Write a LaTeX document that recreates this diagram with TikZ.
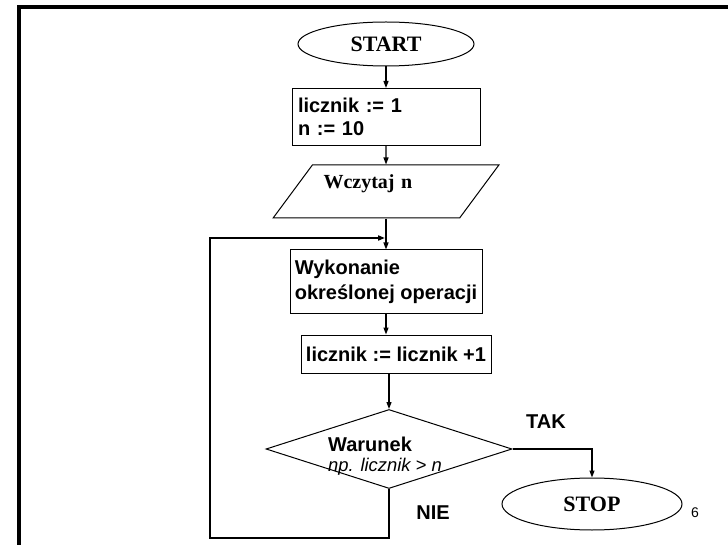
\documentclass[tikz,border=0pt]{standalone}
\usepackage{fontspec}
\setmainfont{Liberation Serif}
\setsansfont{Liberation Sans}
\usetikzlibrary{arrows.meta,shapes.geometric}

\begin{document}
\begin{tikzpicture}[x=1pt,y=-1pt,
    >={Triangle[length=7pt,width=5pt]},
    every node/.style={inner sep=0pt},
    flow/.style={draw,line width=1pt},
    blok/.style={flow,rectangle,font=\fontsize{20}{23}\selectfont\sffamily\bfseries},
    term/.style={flow,ellipse,font=\fontsize{22}{24}\selectfont\bfseries},
    lbl/.style={font=\fontsize{20}{24}\selectfont\sffamily\bfseries},
    conn/.style={->,line width=1.2pt},
    powrot/.style={->,line width=2.2pt}]
  \useasboundingbox (0,0) rectangle (728,545);
  % ramka slajdu
  \draw[line width=4pt] (19,545) -- (19,7) -- (728,7);

  \node[term,minimum width=176pt,minimum height=44pt] (start) at (386,44) {START};
  \node[blok,minimum width=188pt,minimum height=57pt,text width=176pt,align=left] (init) at (386,117) {licznik := 1\\n := 10};
  \node[flow,trapezium,trapezium left angle=47,trapezium right angle=133,trapezium stretches=true,
        inner sep=2pt,minimum width=226pt,minimum height=53pt,
        font=\fontsize{20}{24}\selectfont\bfseries,text width=125pt,align=left,text depth=19pt] (read) at (386,191.5) {Wczytaj n};
  \node[blok,minimum width=192pt,minimum height=63pt,align=left,
        font=\fontsize{20}{25}\selectfont\sffamily\bfseries] (op) at (386,281.5) {Wykonanie\\określonej operacji};
  \node[blok,minimum width=190pt,minimum height=38pt] (inc) at (396,354) {licznik := licznik +1};
  \node[flow,diamond,inner sep=2pt,minimum width=246pt,minimum height=79pt,
        label={[align=left,font=\fontsize{18.4}{20}\selectfont\sffamily,xshift=-4pt,yshift=-7pt]center:{\fontsize{20}{20}\selectfont\bfseries Warunek}\\\itshape np. licznik > n}] (dec) at (389,449) {};
  \node[term,minimum width=180pt,minimum height=52pt] (stop) at (592,504) {STOP};

  \node[lbl] (tak) at (546,422) {TAK};
  \node[lbl] (nie) at (433,513) {NIE};
  \node[font=\fontsize{14}{14}\selectfont\sffamily] (nr) at (695,513) {6};

  \coordinate (lb) at (210,538);
  \coordinate (wej) at (385,238);

  \draw[conn] (start) -- (init);
  \draw[conn] (init) -- (read);
  \draw[conn] (read) -- (op);
  \draw[conn] (op.south) -- (op.south |- inc.north);
  \draw[conn] (inc.south -| dec.north) -- (dec.north);
  \draw[conn] (dec.east) -| (stop.north);
  \draw[powrot] (dec.south) |- (lb) |- (wej);
\end{tikzpicture}
\end{document}
